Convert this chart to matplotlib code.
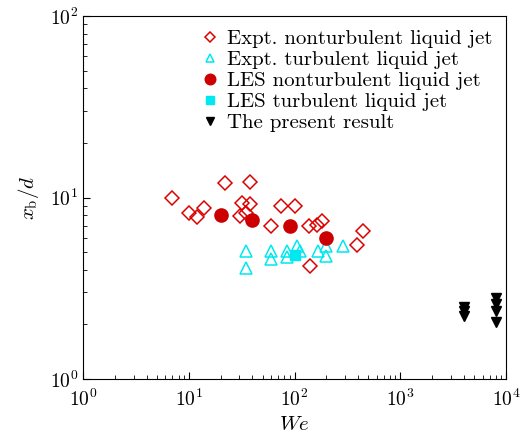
import numpy as np
import matplotlib.pyplot as plt

plt.rcParams['font.family'] = 'serif'
plt.rcParams['font.serif'] = ['cmr10', 'DejaVu Serif']
plt.rcParams['mathtext.fontset'] = 'cm'
plt.rcParams['axes.formatter.use_mathtext'] = True

# Expt. nonturbulent liquid jet
we_expt_nt = [7, 22, 38, 10, 12, 14, 32, 38, 30.5, 34.5, 60, 75, 100, 138, 162, 181, 448, 387, 140]
xb_expt_nt = [10.0, 12.0, 12.2, 8.2, 7.8, 8.8, 9.3, 9.2, 7.9, 8.2, 7.0, 9.0, 9.0, 7.0, 7.05, 7.45, 6.5, 5.5, 4.2]

# Expt. turbulent liquid jet
we_expt_t = [35, 35, 60, 60, 84, 84, 105, 112, 168, 199, 197, 290]
xb_expt_t = [5.1, 4.07, 5.1, 4.57, 5.1, 4.72, 5.4, 5.1, 5.1, 5.4, 4.78, 5.4]

# LES nonturbulent / turbulent liquid jet
we_les_nt = [20, 40, 90, 200]
xb_les_nt = [8.0, 7.5, 7.0, 6.0]
we_les_t = [101]
xb_les_t = [4.82]

# present result
we_present = [4000, 4000, 4000, 8000, 8000, 8000, 8000]
xb_present = [2.49, 2.37, 2.22, 2.79, 2.59, 2.37, 2.06]

fig = plt.figure(figsize=(5.26, 4.33), dpi=100)
ax = fig.add_axes([0.158, 0.1247, 0.804, 0.8383])

ax.plot(we_expt_nt, xb_expt_nt, 'D', ls='none', ms=7, mfc='none', mec='#dd0000', mew=1.1,
        label='Expt. nonturbulent liquid jet')
ax.plot(we_expt_t, xb_expt_t, '^', ls='none', ms=8, mfc='none', mec='#00e8f0', mew=1.1,
        label='Expt. turbulent liquid jet')
ax.plot(we_les_nt, xb_les_nt, 'o', ls='none', ms=9.5, color='#cc0000',
        label='LES nonturbulent liquid jet')
ax.plot(we_les_t, xb_les_t, 's', ls='none', ms=7, color='#00e8f0',
        label='LES turbulent liquid jet')
ax.plot(we_present, xb_present, 'v', ls='none', ms=7, color='black',
        label='The present result')

ax.set_xscale('log')
ax.set_yscale('log')
ax.set_xlim(1, 1e4)
ax.set_ylim(1, 100)
ax.tick_params(which='both', direction='in', labelsize=14, top=False, right=False)
ax.tick_params(which='major', length=5)
ax.tick_params(which='minor', length=3)
ax.tick_params(axis='x', pad=7)
ax.set_xlabel(r'$We$', fontsize=15)
ax.set_ylabel(r'$x_\mathrm{b}/d$', fontsize=15, labelpad=6)

ax.legend(loc='upper right', frameon=False, fontsize=15, handletextpad=0.3,
          handlelength=1.0, labelspacing=0.12, borderaxespad=0.25,
          markerscale=0.8)

fig.savefig('out.png', dpi=100)
